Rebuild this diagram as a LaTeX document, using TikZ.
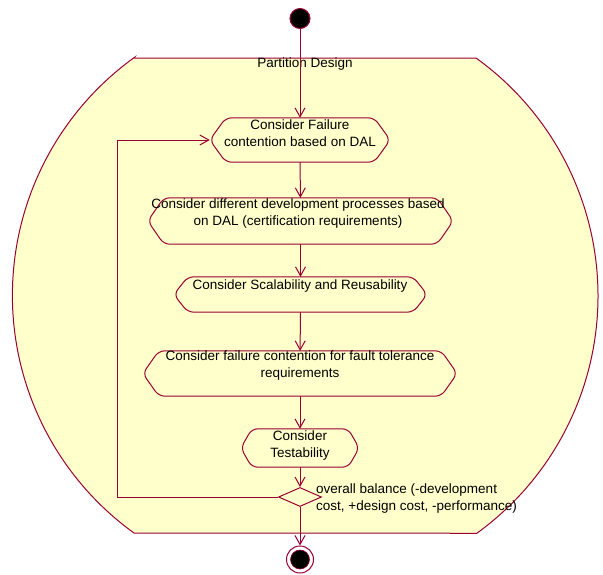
\documentclass[tikz,border=0pt]{standalone}
\usepackage{fontspec}
\setmainfont{Liberation Sans}
\usetikzlibrary{shapes.geometric,arrows.meta}

\definecolor{umlred}{HTML}{990033}
\definecolor{umlfill}{HTML}{FFFFCC}

\tikzset{
  actline/.style={draw=umlred, line width=1pt, rounded corners=6pt},
  act/.style={rectangle, inner sep=0pt, append after command={\pgfextra{
    \draw[actline] ([xshift=#1]\tikzlastnode.north west) -- ([xshift=-#1]\tikzlastnode.north east)
      -- (\tikzlastnode.east) -- ([xshift=-#1]\tikzlastnode.south east)
      -- ([xshift=#1]\tikzlastnode.south west) -- (\tikzlastnode.west) -- cycle;}}},
  act/.default=16pt,
  acttext/.style={align=center, inner sep=0pt, font=\fontsize{13.5}{17}\selectfont},
  flow/.style={draw=umlred, line width=1pt, -{Straight Barb[length=9pt,width=10pt]}},
}

\begin{document}
\begin{tikzpicture}[x=1pt,y=-1pt]
\useasboundingbox (0,0) rectangle (603,574);

% Partition swimlane
\filldraw[draw=umlred, fill=umlfill, line width=1pt] (134,58) -- (476,58) arc (-54.3:54.1:293) -- (134,533) arc (125.8:234.3:293) -- cycle;
\node[acttext] (parttitle) at (305,64) {Partition Design};

% Initial and final states
\node[circle, fill=black, draw=umlred, line width=1pt, minimum size=20pt, inner sep=0pt] (start) at (300,18.5) {};
\node[circle, fill=white, draw=umlred, line width=1pt, minimum size=27pt, inner sep=0pt] (stop) at (300,559.5) {};
\node[circle, fill=black, draw=umlred, line width=0.6pt, minimum size=19pt, inner sep=0pt] (stopdot) at (stop) {};

% Activities
\node[act, minimum width=180pt, minimum height=44pt] (fail) at (300,140) {};
\node[acttext] (failtxt) at (300,133.5) {Consider Failure\\contention based on DAL};

\node[act, minimum width=305pt, minimum height=46pt] (process) at (300.5,221) {};
\node[acttext] (processtxt) at (298,213.5) {Consider different development processes based\\on DAL (certification requirements)};

\node[act=14pt, minimum width=253pt, minimum height=35pt] (scale) at (300.5,294.5) {};
\node[acttext] (scaletxt) at (300,286) {Consider Scalability and Reusability};

\node[act, minimum width=314pt, minimum height=45pt] (tolerance) at (300,373.5) {};
\node[acttext] (tolerancetxt) at (300,365.5) {Consider failure contention for fault tolerance\\requirements};

\node[act=11pt, minimum width=118pt, minimum height=38pt] (testab) at (300,448) {};
\node[acttext] (testabtxt) at (300,445.5) {Consider\\Testability};

% Decision
\node[diamond, draw=umlred, fill=umlfill, line width=1pt, minimum width=43pt, minimum height=19pt, inner sep=0pt] (balance) at (300,497) {};
\node[acttext, anchor=west, align=left] (balancetxt) at (316,498.5) {overall balance (-development\\cost, +design cost, -performance)};

% Control flows
\draw[flow] (start) -- (fail);
\draw[flow] (fail) -- (process);
\draw[flow] (process) -- (scale);
\draw[flow] (scale) -- (tolerance);
\draw[flow] (tolerance) -- (testab);
\draw[flow] (testab) -- (balance);
\draw[flow] (balance) -- (stop);
\coordinate (loop) at (117,497);
\draw[flow] (balance.west) -- (loop) |- (fail.west);

\end{tikzpicture}
\end{document}
